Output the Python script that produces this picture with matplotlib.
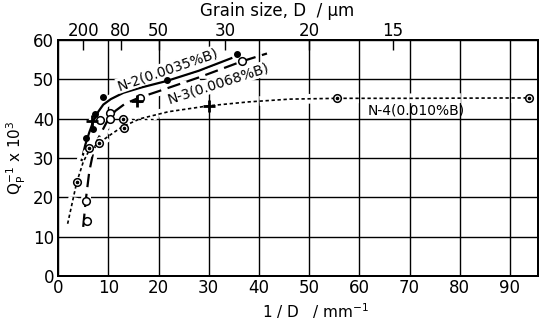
"""
Internal friction peak height versus reciprocal grain size
for three boron-doped steels (N-2, N-3, N-4).
"""

import matplotlib
matplotlib.use("Agg")
import matplotlib.pyplot as plt
import matplotlib.patheffects as pe

# Measured points
n2_x = [5.6, 6.9, 7.4, 9.0, 21.6, 35.6]
n2_y = [35.2, 37.4, 41.2, 45.6, 49.8, 56.5]

n3_x = [5.8, 5.5, 8.4, 10.4, 10.4, 16.3, 36.6]
n3_y = [14.0, 19.2, 39.8, 41.5, 40.0, 45.4, 54.6]

n4_x = [3.7, 6.2, 8.2, 13.0, 13.1, 55.6, 93.7]
n4_y = [23.8, 32.5, 33.8, 40.0, 37.7, 45.2, 45.25]

cross_x = [6.7, 15.7, 30.0]
cross_y = [39.4, 44.6, 43.3]

# Hand-fitted curves
n2_curve_x = [4.7, 5.4, 6.2, 7.0, 8.0, 9.0, 10.5, 13.0, 16.7, 21.6, 28.0, 34.5]
n2_curve_y = [29.5, 33.3, 36.5, 39.3, 41.8, 43.6, 45.0, 46.6, 48.0, 49.6, 52.2, 55.4]

n3_curve_x = [5.0, 5.5, 6.2, 7.0, 8.0, 9.7, 11.4, 13.3, 16.0, 20.0, 28.0, 36.6, 41.6]
n3_curve_y = [12.5, 19.2, 26.5, 31.5, 35.0, 39.2, 42.0, 43.8, 45.3, 47.0, 50.5, 54.6, 56.6]

n4_curve_x = [1.9, 3.7, 5.0, 6.2, 8.2, 10.5, 12.7, 16.3, 22.0, 30.0, 38.0, 46.2, 55.6, 70.0, 93.7]
n4_curve_y = [13.3, 23.8, 29.0, 32.0, 33.9, 36.0, 37.9, 40.0, 41.8, 43.3, 44.3, 45.0, 45.2, 45.2, 45.3]

# Top axis: grain size in micrometres
grain_um = [200, 80, 50, 30, 20, 15]

FS = 12


def _setup_style():
    plt.rcParams.update({
        "font.family": ["DejaVu Sans"],
        "font.size": FS,
        "axes.edgecolor": "black",
        "axes.linewidth": 1.4,
        "grid.color": "black",
        "grid.linewidth": 1.0,
    })


def ve_bieu_do():
    _setup_style()
    fig = plt.figure(figsize=(5.43, 3.21), dpi=100)
    ax = fig.add_axes([0.107, 0.14, 0.884, 0.735])

    ax.set_xlim(0, 95.6)
    ax.set_ylim(0, 60)
    ax.set_xticks(range(0, 100, 10))
    ax.set_yticks(range(0, 70, 10))
    ax.grid(True, zorder=0)
    ax.tick_params(axis="x", length=0, pad=2, labelsize=FS)
    ax.tick_params(axis="y", length=0, pad=3, labelsize=FS)

    gap = [pe.Stroke(linewidth=7, foreground="white"), pe.Normal()]

    ax.plot(n2_curve_x, n2_curve_y, color="black", lw=1.6, zorder=3,
            path_effects=gap)
    ax.plot(n3_curve_x, n3_curve_y, color="black", lw=1.6, zorder=3,
            linestyle=(0, (6, 3)), path_effects=gap)
    ax.plot(n4_curve_x, n4_curve_y, color="black", lw=1.2, zorder=3,
            linestyle=(0, (2, 1.6)), path_effects=gap)

    # Points
    ax.plot(n2_x, n2_y, "o", ms=4, color="black", zorder=5)
    ax.plot(n3_x, n3_y, "o", ms=5.5, mfc="white", mec="black", mew=1.1, zorder=5)
    ax.plot(n4_x, n4_y, "o", ms=5.5, mfc="white", mec="black", mew=1.1, zorder=5)
    ax.plot(n4_x, n4_y, "o", ms=1.6, color="black", zorder=6)
    ax.plot(cross_x, cross_y, "+", ms=8, mew=2, color="black", zorder=5)

    # Curve labels
    box = dict(facecolor="white", edgecolor="none", pad=0.5)
    ax.text(21.8, 52.6, "N-2(0.0035%B)", rotation=19, ha="center", va="center",
            fontsize=10, bbox=box, zorder=4)
    ax.text(32.0, 49.0, "N-3(0.0068%B)", rotation=18, ha="center", va="center",
            fontsize=10, bbox=box, zorder=4)
    ax.text(71.3, 42.2, "N-4(0.010%B)", ha="center", va="center",
            fontsize=10, zorder=4)

    # Axis titles
    fig.text(0.582, 0.032, "1 / D   / mm$^{-1}$", ha="center", va="center",
             fontsize=11)
    ax.set_ylabel(r"Q$_\mathrm{P}^{-1}$ x 10$^3$", fontsize=11)
    ax.yaxis.set_label_coords(-0.062, 0.5)
    fig.text(0.51, 0.965, "Grain size, D  / µm", ha="center", va="center",
             fontsize=FS)

    # Grain-size scale along the top
    top = ax.twiny()
    top.set_xlim(ax.get_xlim())
    top.set_xticks([1000.0 / d for d in grain_um])
    top.set_xticklabels([str(d) for d in grain_um])
    top.tick_params(direction="in", length=7, width=1, pad=0, labelsize=FS)

    fig.savefig("out.png", dpi=100)
    plt.close(fig)


if __name__ == "__main__":
    ve_bieu_do()
